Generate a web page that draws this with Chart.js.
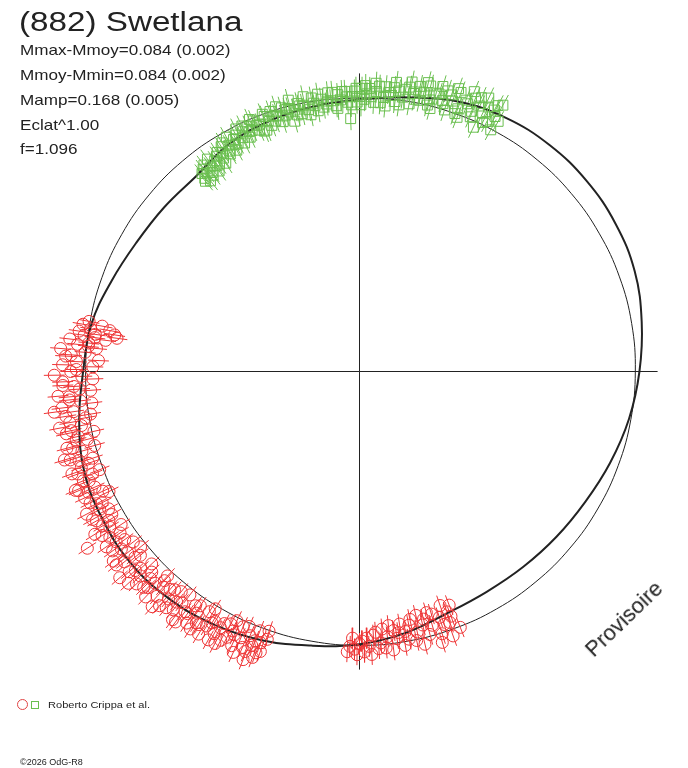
<!DOCTYPE html>
<html>
<head>
<meta charset="utf-8">
<title>(882) Swetlana</title>
<script src="https://cdn.jsdelivr.net/npm/chart.js@4.4.0/dist/chart.umd.min.js"></script>
<style>
  body { margin: 0; background: #fff; }
  #wrap { position: relative; width: 688px; height: 768px; overflow: hidden; font-family: "Liberation Sans", Arial, sans-serif; color: #222; }
  #polarChart { position: absolute; left: 0; top: 0; }
  .txt { position: absolute; white-space: nowrap; transform-origin: 0 0; }
  #title { left: 19px; top: 9px; font-size: 27px; line-height: 27px; transform: scaleX(1.23); }
  #info { left: 20px; top: 38.4px; font-size: 15px; line-height: 24.75px; transform: scaleX(1.14); }
  #legendText { left: 48px; top: 700.8px; font-size: 8.5px; line-height: 8.5px; transform: scaleX(1.3); }
  #copy { left: 20px; top: 758.4px; font-size: 9px; line-height: 9px; }
  #stamp { left: 624px; top: 619px; font-size: 22px; line-height: 22px; transform: translate(-50%, -50%) rotate(-44deg); transform-origin: 50% 50%; }
  .mk { position: absolute; box-sizing: border-box; }
</style>
</head>
<body>
<div id="wrap">
  <canvas id="polarChart" width="688" height="768"></canvas>
  <div class="txt" id="title">(882) Swetlana</div>
  <div class="txt" id="info">
    <div>Mmax-Mmoy=0.084 (0.002)</div>
    <div>Mmoy-Mmin=0.084 (0.002)</div>
    <div>Mamp=0.168 (0.005)</div>
    <div>Eclat^1.00</div>
    <div>f=1.096</div>
  </div>
  <span class="mk" style="left:17px;top:699px;width:11px;height:11px;border:1px solid #e04444;border-radius:50%;"></span>
  <span class="mk" style="left:31px;top:701px;width:8px;height:8px;border:1px solid #6abf4f;"></span>
  <div class="txt" id="legendText">Roberto Crippa et al.</div>
  <div class="txt" id="copy">©2026 OdG-R8</div>
  <div class="txt" id="stamp">Provisoire</div>
</div>
<script>
// Polar light curve: angle = rotational phase (deg, clockwise from top), radius = scaled brightness

// reference circle
const thinAngle = [0, 10, 20, 30, 40, 50, 60, 70, 80, 90, 100, 110, 120, 130, 140, 150, 160, 170, 180,
  190, 200, 210, 220, 230, 240, 250, 260, 270, 280, 290, 300, 310, 320, 330, 340, 350, 360];
const thinRadius = [0.996, 0.998, 1.0, 1.003, 1.005, 1.006, 1.006, 1.006, 1.005, 1.003, 1.002, 1.001, 1.0, 0.999,
  0.998, 0.997, 0.996, 0.996, 0.996, 0.996, 0.997, 0.998, 0.998, 0.998, 0.998, 0.997, 0.997, 0.996, 0.996,
  0.997, 0.998, 0.999, 1.0, 1.0, 0.999, 0.997, 0.996];

// fitted light curve
const fitAngle = [0, 10, 20, 30, 40, 50, 60, 70, 80, 90, 100, 110, 120, 130, 140, 150, 160, 170, 180,
  190, 200, 210, 220, 230, 240, 250, 260, 270, 280, 290, 300, 310, 320, 330, 340, 350, 360];
const fitRadius = [0.99, 1.012, 1.045, 1.065, 1.075, 1.078, 1.075, 1.065, 1.042, 1.018, 0.995, 0.97, 0.948,
  0.935, 0.927, 0.925, 0.935, 0.965, 0.992, 1.012, 1.04, 1.062, 1.078, 1.085, 1.078, 1.065, 1.035, 1.005,
  0.99, 0.96, 0.937, 0.928, 0.926, 0.953, 0.968, 0.978, 0.99];

// session 1 (red circles)
const redAngle = [
  158.5, 159, 159.5, 160, 160.2, 160.5, 161, 161.5, 162, 162.5,
  163, 163.5, 164, 164.5, 165, 165.5, 166, 166.5, 167, 167.5,
  168, 168.5, 169, 169.5, 170, 170.5, 171, 171.5, 172, 172.5,
  173, 173.5, 174, 174.5, 175, 175.5, 176, 176.5, 177, 177.5,
  178, 178.5, 179, 179.5, 180, 180.5, 181, 181.5, 182, 182.5,
  199, 199.2, 199.5, 200, 200.2, 200.5, 201, 201.2, 201.5, 202,
  202.2, 202.5, 203, 203.4, 204, 204.2, 204.5, 205, 205.4, 206,
  206.2, 206.5, 207, 207.3, 208, 208.2, 208.5, 209, 209.4, 210,
  210.4, 211, 211.3, 211.5, 212, 212.4, 213, 213.3, 214, 214.2,
  214.5, 215, 215.4, 216, 216.3, 217, 217.2, 217.5, 218, 218.4,
  219, 219.3, 220, 220.3, 220.5, 221, 221.4, 222, 222.3, 223,
  223.2, 223.5, 224, 224.4, 225, 225.3, 226, 226.4, 227, 227.2,
  227.5, 228, 228.4, 229, 229.3, 230, 230.4, 231, 231.3, 231.5,
  232, 232.4, 233, 233.3, 234, 234.4, 235, 235.3, 236, 236.4,
  237, 237.3, 237.5, 238, 238.4, 239, 239.3, 240, 240.4, 241,
  241.3, 242, 242.4, 243, 243.3, 244, 244.4, 245, 245.3, 246,
  246.4, 247, 247.3, 248, 248.4, 249, 249.3, 250, 250.4, 251,
  251.3, 252, 252.4, 253, 253.3, 254, 254.4, 255, 255.3, 256,
  256.4, 257, 257.3, 258, 258.4, 259, 259.3, 260, 260.4, 261,
  261.3, 262, 262.4, 263, 263.3, 264, 264.4, 265, 265.3, 266,
  266.4, 267, 267.3, 268, 268.4, 269, 269.3, 270, 270.4, 271,
  271.3, 272, 272.4, 273, 273.3, 274, 274.4, 275, 275.3, 275.5,
  276, 276.4, 277, 277.3, 277.5, 277.8, 278, 278.2, 278.5, 279,
  279.3, 279.7, 280, 280.5];
const redRadius = [
  1.00, 0.91, 0.95, 0.93, 0.97, 1.02, 0.90, 0.97, 0.94, 1.00,
  1.03, 0.92, 0.96, 0.91, 0.99, 0.93, 0.95, 1.02, 0.91, 0.97,
  1.00, 0.92, 0.94, 0.99, 0.96, 1.01, 0.93, 0.96, 0.98, 0.95,
  1.02, 0.93, 0.97, 1.01, 0.94, 0.99, 1.01, 0.95, 0.96, 1.03,
  1.00, 0.97, 1.02, 0.98, 0.99, 1.03, 1.01, 0.97, 1.00, 1.02,
  1.03, 1.00, 1.08, 1.05, 1.09, 1.11, 1.01, 1.05, 1.07, 1.13,
  1.10, 1.04, 1.09, 1.01, 1.06, 1.12, 1.02, 1.10, 1.06, 1.05,
  1.01, 1.08, 1.03, 1.10, 1.12, 1.04, 1.06, 1.09, 1.12, 1.05,
  1.06, 1.08, 1.01, 1.12, 1.03, 1.09, 1.09, 1.12, 1.06, 1.03,
  1.11, 1.04, 1.08, 1.08, 1.13, 1.13, 1.02, 1.06, 1.10, 1.07,
  1.03, 1.11, 1.08, 1.04, 1.12, 1.05, 1.14, 1.10, 1.06, 1.04,
  1.02, 1.13, 1.07, 1.10, 1.11, 1.07, 1.05, 1.12, 1.09, 1.03,
  1.14, 1.07, 1.09, 1.11, 1.15, 1.04, 1.06, 1.10, 1.02, 1.13,
  1.07, 1.13, 1.03, 1.08, 1.11, 1.05, 1.08, 1.12, 1.05, 1.09,
  1.18, 1.03, 1.11, 1.07, 1.13, 1.09, 1.06, 1.04, 1.10, 1.11,
  1.04, 1.07, 1.12, 1.05, 1.07, 1.09, 1.01, 1.03, 1.10, 1.08,
  1.05, 1.11, 1.12, 1.06, 1.08, 1.04, 1.01, 1.09, 1.11, 1.07,
  1.04, 1.02, 1.07, 1.10, 1.12, 1.05, 1.00, 1.08, 1.10, 1.02,
  1.06, 1.05, 0.99, 1.09, 1.07, 1.03, 1.11, 1.07, 1.01, 0.99,
  1.08, 1.05, 1.12, 1.09, 0.98, 1.02, 1.06, 1.06, 1.10, 0.98,
  1.02, 1.04, 1.08, 1.08, 0.97, 1.01, 1.11, 1.05, 1.03, 0.97,
  1.08, 1.03, 0.95, 1.07, 1.05, 1.00, 1.09, 0.96, 0.99, 1.03,
  0.99, 1.06, 0.93, 0.97, 1.01, 0.89, 0.97, 1.03, 0.90, 0.99,
  0.92, 1.02, 0.95, 1.00];

// session 2 (green squares)
const greenAngle = [
  321, 321.3, 321.5, 322, 322.3, 322.5, 323, 323.3, 323.5, 324,
  324.4, 325, 325.3, 325.5, 326, 326.4, 327, 327.3, 327.5, 328,
  328.4, 329, 329.3, 329.5, 330, 330.4, 331, 331.3, 331.5, 332,
  332.4, 333, 333.3, 333.5, 334, 334.4, 335, 335.3, 335.5, 336,
  336.4, 337, 337.3, 337.5, 338, 338.4, 339, 339.3, 339.5, 340,
  340.4, 341, 341.3, 341.5, 342, 342.4, 343, 343.3, 343.5, 344,
  344.4, 345, 345.3, 345.5, 346, 346.4, 347, 347.3, 347.5, 348,
  348.4, 349, 349.3, 350, 350.3, 350.5, 351, 351.4, 352, 352.3,
  353, 353.3, 353.5, 354, 354.4, 355, 355.3, 355.5, 356, 356.4,
  357, 357.3, 357.5, 358, 358.3, 358.5, 359, 359.3, 359.5, 0,
  0.3, 0.5, 1, 1.2, 1.5, 2, 2.4, 3, 3.3, 3.5,
  4, 4.4, 5, 5.3, 5.5, 6, 6.4, 7, 7.3, 7.5,
  8, 8.4, 9, 9.3, 10, 10.3, 10.5, 11, 11.4, 12,
  12.3, 12.5, 13, 13.4, 14, 14.3, 14.5, 15, 15.4, 16,
  16.3, 17, 17.3, 17.5, 18, 18.4, 19, 19.3, 20, 20.3,
  20.5, 21, 21.4, 22, 22.3, 23, 23.3, 23.5, 24, 24.4,
  25, 25.3, 25.5, 26, 26.3, 27, 27.3, 27.5, 28, 28.3,
  28.5, 29];
const greenRadius = [
  0.89, 0.90, 0.92, 0.88, 0.93, 0.91, 0.94, 0.89, 0.90, 0.92,
  0.95, 0.89, 0.91, 0.93, 0.91, 0.94, 0.95, 0.90, 0.92, 0.94,
  0.96, 0.97, 0.92, 0.93, 0.95, 0.98, 0.92, 0.94, 0.96, 0.94,
  0.97, 0.99, 0.93, 0.95, 0.97, 0.99, 0.94, 0.96, 0.98, 0.96,
  1.00, 0.99, 0.97, 0.95, 0.97, 0.94, 0.94, 1.00, 0.99, 0.97,
  0.95, 1.00, 0.98, 0.96, 0.98, 1.01, 0.95, 0.97, 1.00, 0.97,
  0.99, 0.99, 1.02, 0.94, 0.98, 0.96, 1.00, 0.99, 0.96, 0.99,
  1.02, 0.97, 0.95, 1.01, 0.99, 0.98, 0.96, 1.02, 1.00, 0.97,
  0.98, 0.99, 1.02, 0.99, 1.02, 0.97, 0.96, 1.01, 0.99, 1.02,
  1.02, 1.00, 0.98, 0.92, 0.97, 1.00, 1.02, 1.03, 0.98, 1.00,
  0.97, 1.03, 0.99, 1.04, 1.01, 1.03, 1.00, 0.98, 1.05, 1.02,
  1.04, 0.98, 1.00, 1.04, 0.97, 1.02, 1.01, 1.04, 1.06, 0.99,
  1.03, 0.98, 1.01, 1.04, 1.05, 1.07, 0.99, 1.03, 1.01, 1.06,
  1.04, 1.01, 1.04, 1.08, 1.07, 1.00, 1.02, 0.99, 1.05, 1.05,
  1.08, 1.03, 1.02, 1.07, 1.00, 1.06, 1.04, 1.09, 1.08, 1.00,
  1.02, 0.99, 1.06, 1.05, 1.10, 1.08, 1.03, 1.01, 1.09, 1.06,
  0.98, 1.10, 1.04, 1.07, 1.01, 1.02, 1.07, 1.09, 1.05, 1.10,
  1.00, 1.04];

const redErr = 0.038;
const greenErr = 0.042;
const axisHalf = 1.084;

const RED = '#ee3536';
const GREEN = '#6abf4f';
const INK = '#222';

// chart box: canvas is the whole page, centre of the diagram at (359.5, 371.5), 275 px per unit
const CX = 359.5, CY = 371.5, UNIT = 275, W = 688, H = 768;

if (redAngle.length !== redRadius.length || greenAngle.length !== greenRadius.length) {
  console.warn('phase/radius arrays differ in length');
}

const toXY = (deg, r) => {
  const a = deg * Math.PI / 180;
  return { x: r * Math.sin(a), y: r * Math.cos(a) };
};

const polar = (angles, radii) => angles.map((a, i) => toXY(a, radii[i]));

// radial error bars, one segment per point, split by null gaps
const errorBars = (angles, radii, err) => {
  const pts = [];
  angles.forEach((a, i) => {
    pts.push(toXY(a, radii[i] - err), toXY(a, radii[i] + err), { x: null, y: null });
  });
  return pts;
};

const lineSet = (data, width, order, tension) => ({
  data: data,
  showLine: true,
  borderColor: INK,
  borderWidth: width,
  pointRadius: 0,
  tension: tension || 0,
  order: order
});

const ctx = document.getElementById('polarChart').getContext('2d');
const chart = new Chart(ctx, {
  type: 'scatter',
  data: {
    datasets: [
      {
        data: polar(greenAngle, greenRadius),
        pointStyle: 'rect',
        pointRadius: 7,
        pointBorderColor: GREEN,
        pointBackgroundColor: 'rgba(0,0,0,0)',
        pointBorderWidth: 1,
        order: 0
      },
      {
        data: polar(redAngle, redRadius),
        pointStyle: 'circle',
        pointRadius: 6,
        pointBorderColor: RED,
        pointBackgroundColor: 'rgba(0,0,0,0)',
        pointBorderWidth: 1,
        order: 0
      },
      Object.assign(lineSet(errorBars(greenAngle, greenRadius, greenErr), 1, 1), { borderColor: GREEN }),
      Object.assign(lineSet(errorBars(redAngle, redRadius, redErr), 1, 1), { borderColor: RED }),
      lineSet(polar(fitAngle, fitRadius), 2, 0, 0.4),
      lineSet(polar(thinAngle, thinRadius), 1, 3, 0.4),
      lineSet([{ x: -axisHalf, y: 0 }, { x: axisHalf, y: 0 }], 1, 4),
      lineSet([{ x: 0, y: -axisHalf }, { x: 0, y: axisHalf }], 1, 4)
    ]
  },
  options: {
    responsive: false,
    animation: false,
    layout: { padding: 0, autoPadding: false },
    plugins: {
      legend: { display: false },
      tooltip: { enabled: false }
    },
    scales: {
      x: { type: 'linear', display: false, min: -CX / UNIT, max: (W - CX) / UNIT },
      y: { type: 'linear', display: false, min: -(H - CY) / UNIT, max: CY / UNIT }
    }
  }
});
</script>
</body>
</html>
